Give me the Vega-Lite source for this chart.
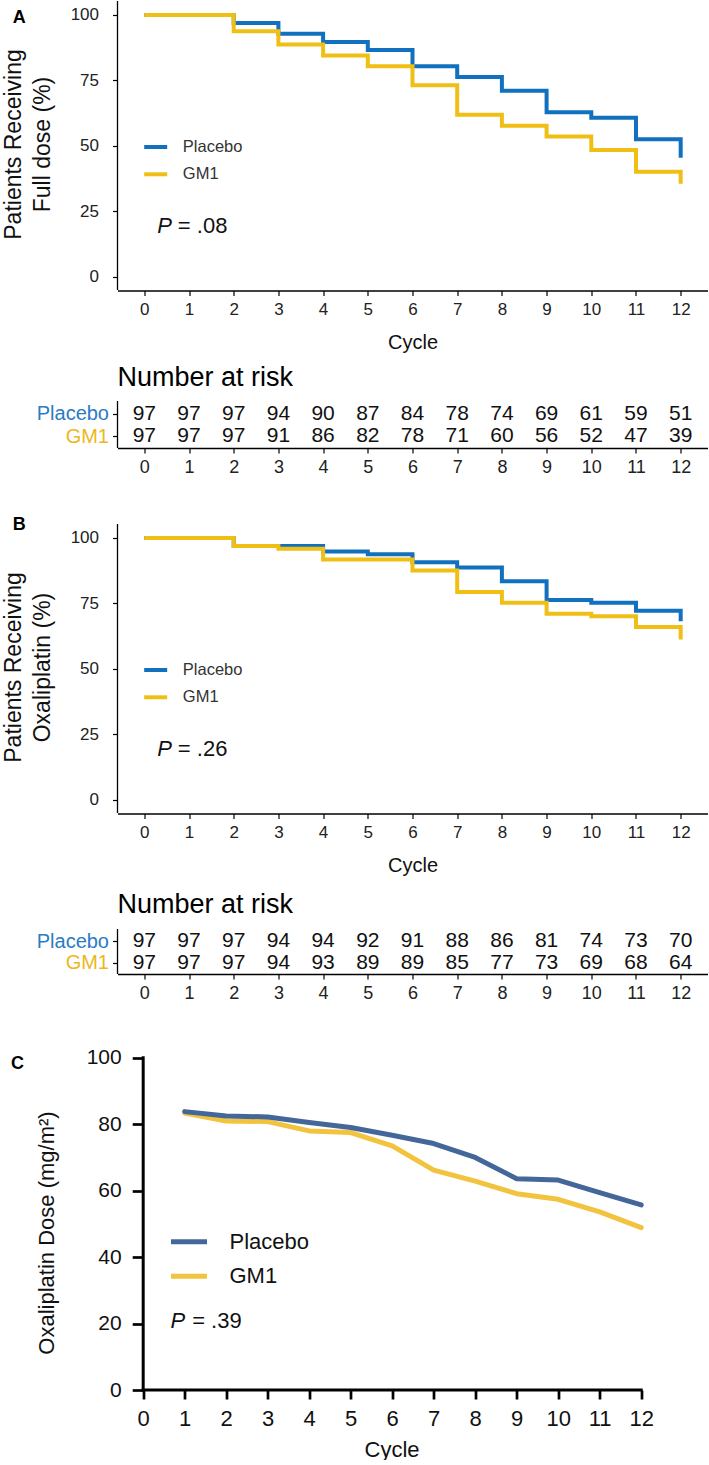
{
  "$schema": "https://vega.github.io/schema/vega-lite/v6.json",
  "padding": {"left": -23.5, "top": 0, "right": 2, "bottom": 0},
  "spacing": 76,
  "bounds": "flush",
  "config": {
    "view": {"stroke": null},
    "font": "Liberation Sans",
    "axis": {"grid": false},
    "background": "white"
  },
  "resolve": {
    "scale": {"color": "independent", "x": "independent", "y": "independent"},
    "legend": {"color": "independent"}
  },
  "datasets": {
    "kmA": [
      {"group": "Placebo", "cycle": 0, "pct": 100}, {"group": "Placebo", "cycle": 1, "pct": 100},
      {"group": "Placebo", "cycle": 2, "pct": 96.9}, {"group": "Placebo", "cycle": 3, "pct": 92.8},
      {"group": "Placebo", "cycle": 4, "pct": 89.7}, {"group": "Placebo", "cycle": 5, "pct": 86.6},
      {"group": "Placebo", "cycle": 6, "pct": 80.4}, {"group": "Placebo", "cycle": 7, "pct": 76.3},
      {"group": "Placebo", "cycle": 8, "pct": 71.1}, {"group": "Placebo", "cycle": 9, "pct": 62.9},
      {"group": "Placebo", "cycle": 10, "pct": 60.8}, {"group": "Placebo", "cycle": 11, "pct": 52.6},
      {"group": "Placebo", "cycle": 12, "pct": 45.5},
      {"group": "GM1", "cycle": 0, "pct": 100}, {"group": "GM1", "cycle": 1, "pct": 100},
      {"group": "GM1", "cycle": 2, "pct": 93.8}, {"group": "GM1", "cycle": 3, "pct": 88.7},
      {"group": "GM1", "cycle": 4, "pct": 84.5}, {"group": "GM1", "cycle": 5, "pct": 80.4},
      {"group": "GM1", "cycle": 6, "pct": 73.2}, {"group": "GM1", "cycle": 7, "pct": 61.9},
      {"group": "GM1", "cycle": 8, "pct": 57.7}, {"group": "GM1", "cycle": 9, "pct": 53.6},
      {"group": "GM1", "cycle": 10, "pct": 48.5}, {"group": "GM1", "cycle": 11, "pct": 40.2},
      {"group": "GM1", "cycle": 12, "pct": 35.6}
    ],
    "kmB": [
      {"group": "Placebo", "cycle": 0, "pct": 100}, {"group": "Placebo", "cycle": 1, "pct": 100},
      {"group": "Placebo", "cycle": 2, "pct": 96.9}, {"group": "Placebo", "cycle": 3, "pct": 96.9},
      {"group": "Placebo", "cycle": 4, "pct": 94.8}, {"group": "Placebo", "cycle": 5, "pct": 93.8},
      {"group": "Placebo", "cycle": 6, "pct": 90.7}, {"group": "Placebo", "cycle": 7, "pct": 88.7},
      {"group": "Placebo", "cycle": 8, "pct": 83.5}, {"group": "Placebo", "cycle": 9, "pct": 76.3},
      {"group": "Placebo", "cycle": 10, "pct": 75.3}, {"group": "Placebo", "cycle": 11, "pct": 72.2},
      {"group": "Placebo", "cycle": 12, "pct": 68.2},
      {"group": "GM1", "cycle": 0, "pct": 100}, {"group": "GM1", "cycle": 1, "pct": 100},
      {"group": "GM1", "cycle": 2, "pct": 96.9}, {"group": "GM1", "cycle": 3, "pct": 95.9},
      {"group": "GM1", "cycle": 4, "pct": 91.8}, {"group": "GM1", "cycle": 5, "pct": 91.8},
      {"group": "GM1", "cycle": 6, "pct": 87.6}, {"group": "GM1", "cycle": 7, "pct": 79.4},
      {"group": "GM1", "cycle": 8, "pct": 75.3}, {"group": "GM1", "cycle": 9, "pct": 71.1},
      {"group": "GM1", "cycle": 10, "pct": 70.1}, {"group": "GM1", "cycle": 11, "pct": 66.0},
      {"group": "GM1", "cycle": 12, "pct": 61.3}
    ],
    "riskA": [
      {"group": "Placebo", "cycle": 0, "n": 97}, {"group": "Placebo", "cycle": 1, "n": 97},
      {"group": "Placebo", "cycle": 2, "n": 97}, {"group": "Placebo", "cycle": 3, "n": 94},
      {"group": "Placebo", "cycle": 4, "n": 90}, {"group": "Placebo", "cycle": 5, "n": 87},
      {"group": "Placebo", "cycle": 6, "n": 84}, {"group": "Placebo", "cycle": 7, "n": 78},
      {"group": "Placebo", "cycle": 8, "n": 74}, {"group": "Placebo", "cycle": 9, "n": 69},
      {"group": "Placebo", "cycle": 10, "n": 61}, {"group": "Placebo", "cycle": 11, "n": 59},
      {"group": "Placebo", "cycle": 12, "n": 51},
      {"group": "GM1", "cycle": 0, "n": 97}, {"group": "GM1", "cycle": 1, "n": 97},
      {"group": "GM1", "cycle": 2, "n": 97}, {"group": "GM1", "cycle": 3, "n": 91},
      {"group": "GM1", "cycle": 4, "n": 86}, {"group": "GM1", "cycle": 5, "n": 82},
      {"group": "GM1", "cycle": 6, "n": 78}, {"group": "GM1", "cycle": 7, "n": 71},
      {"group": "GM1", "cycle": 8, "n": 60}, {"group": "GM1", "cycle": 9, "n": 56},
      {"group": "GM1", "cycle": 10, "n": 52}, {"group": "GM1", "cycle": 11, "n": 47},
      {"group": "GM1", "cycle": 12, "n": 39}
    ],
    "riskB": [
      {"group": "Placebo", "cycle": 0, "n": 97}, {"group": "Placebo", "cycle": 1, "n": 97},
      {"group": "Placebo", "cycle": 2, "n": 97}, {"group": "Placebo", "cycle": 3, "n": 94},
      {"group": "Placebo", "cycle": 4, "n": 94}, {"group": "Placebo", "cycle": 5, "n": 92},
      {"group": "Placebo", "cycle": 6, "n": 91}, {"group": "Placebo", "cycle": 7, "n": 88},
      {"group": "Placebo", "cycle": 8, "n": 86}, {"group": "Placebo", "cycle": 9, "n": 81},
      {"group": "Placebo", "cycle": 10, "n": 74}, {"group": "Placebo", "cycle": 11, "n": 73},
      {"group": "Placebo", "cycle": 12, "n": 70},
      {"group": "GM1", "cycle": 0, "n": 97}, {"group": "GM1", "cycle": 1, "n": 97},
      {"group": "GM1", "cycle": 2, "n": 97}, {"group": "GM1", "cycle": 3, "n": 94},
      {"group": "GM1", "cycle": 4, "n": 93}, {"group": "GM1", "cycle": 5, "n": 89},
      {"group": "GM1", "cycle": 6, "n": 89}, {"group": "GM1", "cycle": 7, "n": 85},
      {"group": "GM1", "cycle": 8, "n": 77}, {"group": "GM1", "cycle": 9, "n": 73},
      {"group": "GM1", "cycle": 10, "n": 69}, {"group": "GM1", "cycle": 11, "n": 68},
      {"group": "GM1", "cycle": 12, "n": 64}
    ],
    "doseC": [
      {"group": "Placebo", "cycle": 1, "dose": 83.8}, {"group": "Placebo", "cycle": 2, "dose": 82.5},
      {"group": "Placebo", "cycle": 3, "dose": 82.2}, {"group": "Placebo", "cycle": 4, "dose": 80.5},
      {"group": "Placebo", "cycle": 5, "dose": 79.0}, {"group": "Placebo", "cycle": 6, "dose": 76.7},
      {"group": "Placebo", "cycle": 7, "dose": 74.2}, {"group": "Placebo", "cycle": 8, "dose": 70.0},
      {"group": "Placebo", "cycle": 9, "dose": 63.6}, {"group": "Placebo", "cycle": 10, "dose": 63.2},
      {"group": "Placebo", "cycle": 11, "dose": 59.4}, {"group": "Placebo", "cycle": 12, "dose": 55.7},
      {"group": "GM1", "cycle": 1, "dose": 83.4}, {"group": "GM1", "cycle": 2, "dose": 81.0},
      {"group": "GM1", "cycle": 3, "dose": 80.8}, {"group": "GM1", "cycle": 4, "dose": 78.0},
      {"group": "GM1", "cycle": 5, "dose": 77.5}, {"group": "GM1", "cycle": 6, "dose": 73.5},
      {"group": "GM1", "cycle": 7, "dose": 66.2}, {"group": "GM1", "cycle": 8, "dose": 62.9},
      {"group": "GM1", "cycle": 9, "dose": 59.1}, {"group": "GM1", "cycle": 10, "dose": 57.4},
      {"group": "GM1", "cycle": 11, "dose": 53.6}, {"group": "GM1", "cycle": 12, "dose": 48.9}
    ]
  },
  "vconcat": [
    {
      "width": 590,
      "height": 447,
      "resolve": {"scale": {"y": "independent"}, "axis": {"x": "independent", "y": "independent"}},
      "layer": [
        {
          "layer": [
            {
              "data": {"name": "kmA"},
              "transform": [{"filter": "datum.group === 'Placebo'"}],
              "mark": {"type": "line", "interpolate": "step-after", "strokeWidth": 4},
              "encoding": {
                "x": {"field": "cycle", "type": "quantitative",
                  "scale": {"domain": [-0.6, 12.6], "nice": false, "zero": false},
                  "axis": {"orient": "bottom", "offset": -157.5, "values": [0,1,2,3,4,5,6,7,8,9,10,11,12],
                    "domainColor": "#000", "domainWidth": 1.3, "tickColor": "#000", "tickWidth": 1.2, "tickSize": 5,
                    "labelFontSize": 17, "labelPadding": 6, "labelColor": "#222",
                    "title": "Cycle", "titleFontSize": 20, "titleFontWeight": "normal", "titleColor": "#111",
                    "titleX": 295, "titleY": 57.7, "titleBaseline": "alphabetic", "titleAlign": "center"}},
                "y": {"field": "pct", "type": "quantitative",
                  "scale": {"domain": [-65.27, 105.34], "nice": false, "zero": false},
                  "axis": {"values": [0, 25, 50, 75, 100], "domain": false, "tickSize": 5, "tickColor": "#000", "tickWidth": 1.2,
                    "labelFontSize": 17, "labelPadding": 14, "labelColor": "#222",
                    "title": ["Patients Receiving", "Full dose (%)"], "titleFontSize": 23, "titleFontWeight": "normal",
                    "titleColor": "#111", "titleX": -103.7, "titleY": 143, "titleAngle": -90, "titleAlign": "center",
                    "titleBaseline": "middle", "titleLineHeight": 28.4}},
                "color": {"field": "group", "type": "nominal",
                  "scale": {"domain": ["Placebo", "GM1"], "range": ["#1271BE", "#F0BF15"]},
                  "legend": {"orient": "none", "legendX": 24.7, "legendY": 132.5, "title": null, "symbolType": "stroke",
                    "symbolSize": 529, "symbolStrokeWidth": 4, "labelFontSize": 16.5, "labelColor": "#333",
                    "labelOffset": 13.6, "rowPadding": 5.3, "padding": 0, "direction": "vertical"}}
              }
            },
            {
              "data": {"name": "kmA"},
              "transform": [{"filter": "datum.group === 'GM1'"}],
              "mark": {"type": "line", "interpolate": "step-after", "strokeWidth": 4},
              "encoding": {
                "x": {"field": "cycle", "type": "quantitative"},
                "y": {"field": "pct", "type": "quantitative"},
                "color": {"field": "group", "type": "nominal"}
              }
            },
            {
              "data": {"values": [{}]},
              "mark": {"type": "rule", "color": "#000", "strokeWidth": 1.3},
              "encoding": {
                "x": {"datum": -0.6, "type": "quantitative"},
                "y": {"datum": -5, "type": "quantitative"},
                "y2": {"datum": 105.34}
              }
            },
            {
              "data": {"values": [{}]},
              "mark": {"type": "rule", "color": "#000", "strokeWidth": 1.3},
              "encoding": {
                "x": {"datum": -0.6, "type": "quantitative"},
                "y": {"datum": -47.33, "type": "quantitative"},
                "y2": {"datum": -65.27}
              }
            },
            {
              "data": {"values": [{}]},
              "mark": {"type": "rule", "color": "#ffffff", "strokeWidth": 1},
              "encoding": {
                "x": {"datum": -3.732, "type": "quantitative"},
                "y": {"datum": 50, "type": "quantitative"},
                "y2": {"datum": 50.3}
              }
            },
            {
              "data": {"values": [{}]},
              "mark": {"type": "text", "text": "P", "fontStyle": "italic", "fontSize": 22, "align": "left", "baseline": "middle", "color": "#111"},
              "encoding": {"x": {"datum": 0.289, "type": "quantitative"}, "y": {"datum": 19.58, "type": "quantitative"}}
            },
            {
              "data": {"values": [{}]},
              "mark": {"type": "text", "text": "= .08", "fontSize": 22, "align": "left", "baseline": "middle", "color": "#111"},
              "encoding": {"x": {"datum": 0.75, "type": "quantitative"}, "y": {"datum": 19.58, "type": "quantitative"}}
            },
            {
              "data": {"values": [{}]},
              "mark": {"type": "text", "text": "A", "fontWeight": "bold", "fontSize": 18, "align": "center", "baseline": "middle", "color": "#000"},
              "encoding": {"x": {"datum": -2.8, "type": "quantitative"}, "y": {"datum": 98.97, "type": "quantitative"}}
            },
            {
              "data": {"values": [{}]},
              "mark": {"type": "text", "text": "Number at risk", "fontSize": 27, "align": "left", "baseline": "alphabetic", "color": "#000"},
              "encoding": {"x": {"datum": -0.6, "type": "quantitative"}, "y": {"datum": -41.6, "type": "quantitative"}}
            }
          ]
        },
        {
          "data": {"name": "riskA"},
          "mark": {"type": "text", "fontSize": 21, "align": "center", "baseline": "middle", "color": "#111"},
          "encoding": {
            "x": {"field": "cycle", "type": "quantitative",
              "scale": {"domain": [-0.6, 12.6], "nice": false, "zero": false},
              "axis": {"orient": "bottom", "values": [0,1,2,3,4,5,6,7,8,9,10,11,12], "domainColor": "#000", "domainWidth": 1.3,
                "tickColor": "#000", "tickSize": 5, "tickWidth": 1.2, "labelFontSize": 18, "labelPadding": 5,
                "labelColor": "#222", "title": null}},
            "y": {"field": "group", "type": "nominal",
              "scale": {"type": "point", "domain": ["Placebo", "GM1"], "range": [412.5, 435], "padding": 0},
              "axis": {"orient": "left", "domain": false, "tickSize": 5, "tickColor": "#000", "tickWidth": 1.2,
                "labelFontSize": 20, "labelPadding": 4, "title": null,
                "labelColor": {"condition": {"test": "datum.value === 'Placebo'", "value": "#2A7CC4"}, "value": "#EBB820"}}},
            "text": {"field": "n", "type": "quantitative"}
          }
        }
      ]
    },
    {
      "width": 590,
      "height": 450,
      "resolve": {"scale": {"y": "independent"}, "axis": {"x": "independent", "y": "independent"}},
      "layer": [
        {
          "layer": [
            {
              "data": {"name": "kmB"},
              "transform": [{"filter": "datum.group === 'Placebo'"}],
              "mark": {"type": "line", "interpolate": "step-after", "strokeWidth": 4},
              "encoding": {
                "x": {"field": "cycle", "type": "quantitative",
                  "scale": {"domain": [-0.6, 12.6], "nice": false, "zero": false},
                  "axis": {"orient": "bottom", "offset": -160.5, "values": [0,1,2,3,4,5,6,7,8,9,10,11,12],
                    "domainColor": "#000", "domainWidth": 1.3, "tickColor": "#000", "tickWidth": 1.2, "tickSize": 5,
                    "labelFontSize": 17, "labelPadding": 6, "labelColor": "#222",
                    "title": "Cycle", "titleFontSize": 20, "titleFontWeight": "normal", "titleColor": "#111",
                    "titleX": 295, "titleY": 57.7, "titleBaseline": "alphabetic", "titleAlign": "center"}},
                "y": {"field": "pct", "type": "quantitative",
                  "scale": {"domain": [-66.42, 105.34], "nice": false, "zero": false},
                  "axis": {"values": [0, 25, 50, 75, 100], "domain": false, "tickSize": 5, "tickColor": "#000", "tickWidth": 1.2,
                    "labelFontSize": 17, "labelPadding": 14, "labelColor": "#222",
                    "title": ["Patients Receiving", "Oxaliplatin (%)"], "titleFontSize": 23, "titleFontWeight": "normal",
                    "titleColor": "#111", "titleX": -103.7, "titleY": 143, "titleAngle": -90, "titleAlign": "center",
                    "titleBaseline": "middle", "titleLineHeight": 28.4}},
                "color": {"field": "group", "type": "nominal",
                  "scale": {"domain": ["Placebo", "GM1"], "range": ["#1271BE", "#F0BF15"]},
                  "legend": {"orient": "none", "legendX": 24.7, "legendY": 132.5, "title": null, "symbolType": "stroke",
                    "symbolSize": 529, "symbolStrokeWidth": 4, "labelFontSize": 16.5, "labelColor": "#333",
                    "labelOffset": 13.6, "rowPadding": 5.3, "padding": 0, "direction": "vertical"}}
              }
            },
            {
              "data": {"name": "kmB"},
              "transform": [{"filter": "datum.group === 'GM1'"}],
              "mark": {"type": "line", "interpolate": "step-after", "strokeWidth": 4},
              "encoding": {
                "x": {"field": "cycle", "type": "quantitative"},
                "y": {"field": "pct", "type": "quantitative"},
                "color": {"field": "group", "type": "nominal"}
              }
            },
            {
              "data": {"values": [{}]},
              "mark": {"type": "rule", "color": "#000", "strokeWidth": 1.3},
              "encoding": {
                "x": {"datum": -0.6, "type": "quantitative"},
                "y": {"datum": -5, "type": "quantitative"},
                "y2": {"datum": 105.34}
              }
            },
            {
              "data": {"values": [{}]},
              "mark": {"type": "rule", "color": "#000", "strokeWidth": 1.3},
              "encoding": {
                "x": {"datum": -0.6, "type": "quantitative"},
                "y": {"datum": -49.24, "type": "quantitative"},
                "y2": {"datum": -66.42}
              }
            },
            {
              "data": {"values": [{}]},
              "mark": {"type": "text", "text": "P", "fontStyle": "italic", "fontSize": 22, "align": "left", "baseline": "middle", "color": "#111"},
              "encoding": {"x": {"datum": 0.289, "type": "quantitative"}, "y": {"datum": 19.58, "type": "quantitative"}}
            },
            {
              "data": {"values": [{}]},
              "mark": {"type": "text", "text": "= .26", "fontSize": 22, "align": "left", "baseline": "middle", "color": "#111"},
              "encoding": {"x": {"datum": 0.75, "type": "quantitative"}, "y": {"datum": 19.58, "type": "quantitative"}}
            },
            {
              "data": {"values": [{}]},
              "mark": {"type": "text", "text": "B", "fontWeight": "bold", "fontSize": 18, "align": "center", "baseline": "middle", "color": "#000"},
              "encoding": {"x": {"datum": -2.8, "type": "quantitative"}, "y": {"datum": 104.96, "type": "quantitative"}}
            },
            {
              "data": {"values": [{}]},
              "mark": {"type": "text", "text": "Number at risk", "fontSize": 27, "align": "left", "baseline": "alphabetic", "color": "#000"},
              "encoding": {"x": {"datum": -0.6, "type": "quantitative"}, "y": {"datum": -43.0, "type": "quantitative"}}
            }
          ]
        },
        {
          "data": {"name": "riskB"},
          "mark": {"type": "text", "fontSize": 21, "align": "center", "baseline": "middle", "color": "#111"},
          "encoding": {
            "x": {"field": "cycle", "type": "quantitative",
              "scale": {"domain": [-0.6, 12.6], "nice": false, "zero": false},
              "axis": {"orient": "bottom", "values": [0,1,2,3,4,5,6,7,8,9,10,11,12], "domainColor": "#000", "domainWidth": 1.3,
                "tickColor": "#000", "tickSize": 5, "tickWidth": 1.2, "labelFontSize": 18, "labelPadding": 5,
                "labelColor": "#222", "title": null}},
            "y": {"field": "group", "type": "nominal",
              "scale": {"type": "point", "domain": ["Placebo", "GM1"], "range": [417, 438.5], "padding": 0},
              "axis": {"orient": "left", "domain": false, "tickSize": 5, "tickColor": "#000", "tickWidth": 1.2,
                "labelFontSize": 20, "labelPadding": 4, "title": null,
                "labelColor": {"condition": {"test": "datum.value === 'Placebo'", "value": "#2A7CC4"}, "value": "#EBB820"}}},
            "text": {"field": "n", "type": "quantitative"}
          }
        }
      ]
    },
    {
      "width": 590,
      "height": 340,
      "layer": [
        {
          "data": {"name": "doseC"},
          "transform": [{"filter": "datum.group === 'GM1'"}],
          "mark": {"type": "line", "strokeWidth": 5, "strokeCap": "round", "strokeJoin": "round"},
          "encoding": {
            "x": {"field": "cycle", "type": "quantitative",
              "scale": {"domain": [-0.619, 13.598], "nice": false, "zero": false},
              "axis": {"orient": "bottom", "domain": false, "values": [0,1,2,3,4,5,6,7,8,9,10,11,12],
                "tickSize": 9, "tickWidth": 2.7, "tickColor": "#000", "labelFontSize": 22, "labelPadding": 9,
                "labelColor": "#111", "title": "Cycle", "titleFontSize": 22, "titleFontWeight": "normal", "titleColor": "#111",
                "titleX": 274, "titleY": 66, "titleBaseline": "alphabetic", "titleAlign": "center"}},
            "y": {"field": "dose", "type": "quantitative",
              "scale": {"domain": [0, 102.35], "nice": false, "zero": false},
              "axis": {"orient": "left", "offset": -25.7, "domain": false, "values": [0, 20, 40, 60, 80, 100],
                "tickSize": 11, "tickWidth": 2.7, "tickColor": "#000", "labelFontSize": 21, "labelPadding": 11,
                "labelColor": "#111", "title": "Oxaliplatin Dose (mg/m²)", "titleFontSize": 22, "titleFontWeight": "normal",
                "titleColor": "#111", "titleX": -96.7, "titleY": 182.5, "titleAngle": -90, "titleBaseline": "middle",
                "titleAlign": "center"}},
            "color": {"field": "group", "type": "nominal",
              "scale": {"domain": ["Placebo", "GM1"], "range": ["#44679A", "#F2C33E"]},
              "legend": {"orient": "none", "legendX": 51, "legendY": 171.3, "title": null, "symbolType": "stroke",
                "symbolSize": 1296, "symbolStrokeWidth": 5, "labelFontSize": 22, "labelColor": "#111",
                "labelOffset": 20, "rowPadding": 2.4, "padding": 0, "direction": "vertical"}}
          }
        },
        {
          "data": {"name": "doseC"},
          "transform": [{"filter": "datum.group === 'Placebo'"}],
          "mark": {"type": "line", "strokeWidth": 5, "strokeCap": "round", "strokeJoin": "round"},
          "encoding": {
            "x": {"field": "cycle", "type": "quantitative"},
            "y": {"field": "dose", "type": "quantitative"},
            "color": {"field": "group", "type": "nominal"}
          }
        },
        {
          "data": {"values": [{}]},
          "mark": {"type": "rule", "color": "#000", "strokeWidth": 3, "strokeCap": "square"},
          "encoding": {
            "x": {"datum": 0, "type": "quantitative"},
            "y": {"datum": 0, "type": "quantitative"},
            "y2": {"datum": 100}
          }
        },
        {
          "data": {"values": [{}]},
          "mark": {"type": "rule", "color": "#000", "strokeWidth": 3, "strokeCap": "square"},
          "encoding": {
            "x": {"datum": 0, "type": "quantitative"},
            "x2": {"datum": 12},
            "y": {"datum": 0, "type": "quantitative"}
          }
        },
        {
          "data": {"values": [{}]},
          "mark": {"type": "text", "text": "P", "fontStyle": "italic", "fontSize": 22, "align": "left", "baseline": "middle", "color": "#111"},
          "encoding": {"x": {"datum": 0.658, "type": "quantitative"}, "y": {"datum": 20.8, "type": "quantitative"}}
        },
        {
          "data": {"values": [{}]},
          "mark": {"type": "text", "text": "= .39", "fontSize": 22, "align": "left", "baseline": "middle", "color": "#111"},
          "encoding": {"x": {"datum": 1.18, "type": "quantitative"}, "y": {"datum": 20.8, "type": "quantitative"}}
        },
        {
          "data": {"values": [{}]},
          "mark": {"type": "text", "text": "C", "fontWeight": "bold", "fontSize": 18, "align": "center", "baseline": "middle", "color": "#000"},
          "encoding": {"x": {"datum": -3.03, "type": "quantitative"}, "y": {"datum": 98.1, "type": "quantitative"}}
        }
      ]
    }
  ]
}
